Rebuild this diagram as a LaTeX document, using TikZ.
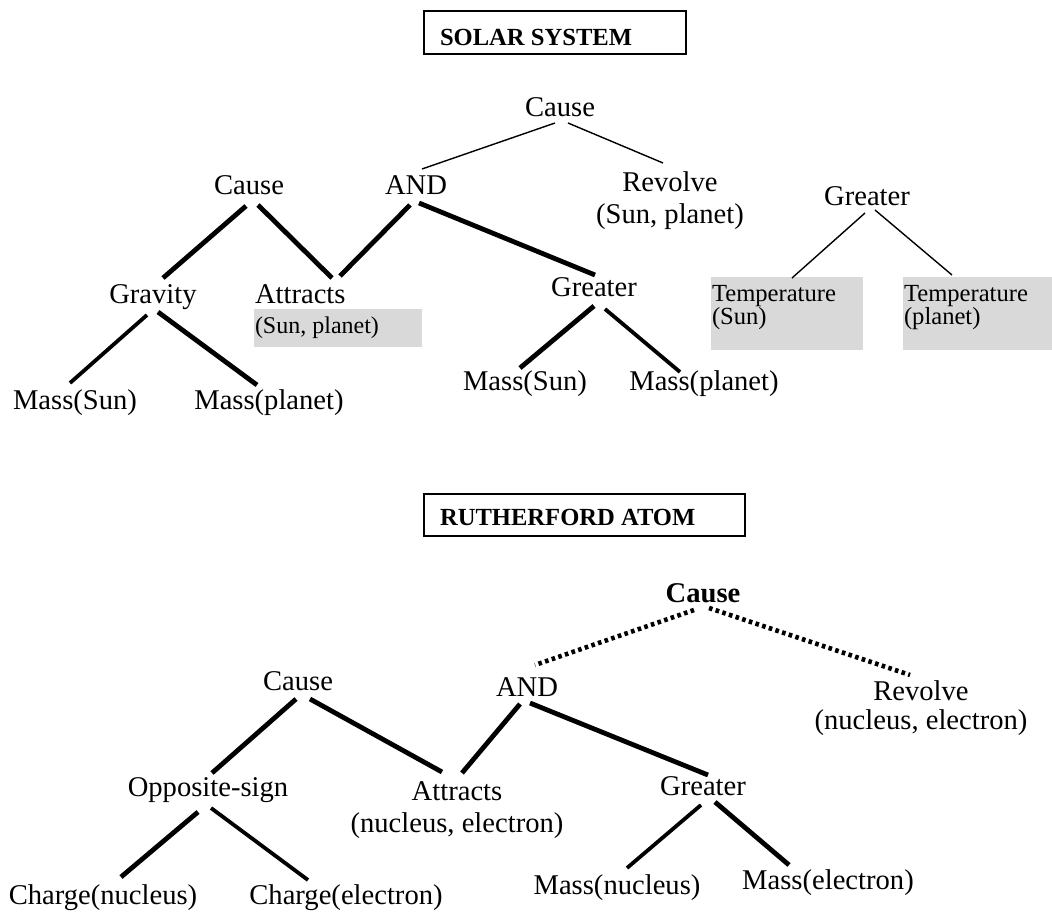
\documentclass[tikz,border=0pt]{standalone}
\usepackage{fontspec}
\setmainfont{Liberation Serif}
\definecolor{shade}{gray}{0.85}
\newcommand\lstack[2]{\vtop{\halign{##\hfil\cr #1\cr #2\cr}}}
\newcommand\cstack[2]{\vtop{\halign{\hfil##\hfil\cr #1\cr #2\cr}}}
\begin{document}
\begin{tikzpicture}[x=1pt,y=-1pt,
  every node/.style={inner sep=0pt, outer sep=0pt},
  lbl/.style={anchor=base, font=\fontsize{28.6}{32}\selectfont},
  boldlbl/.style={anchor=base, font=\fontsize{28.6}{32}\selectfont\bfseries},
  graybox/.style={fill=shade, anchor=north west, inner xsep=1pt, font=\fontsize{24.6}{23}\selectfont},
  titlebox/.style={draw, line width=2pt, anchor=north west, inner xsep=16pt, inner ysep=0pt, font=\fontsize{24.6}{28}\selectfont\bfseries},
  lnthin/.style={line width=1.4pt},
  lnthick/.style={line width=4.8pt},
  lnmid/.style={line width=3.8pt},
  lndots/.style={line width=4.6pt, dash pattern=on 3.6pt off 3.4pt},
]
\useasboundingbox (0,0) rectangle (1052,912);
% ---------- Solar system ----------
\node[titlebox, text height=35pt, text depth=8pt] (t1) at (424,11) {\makebox[230pt][l]{SOLAR SYSTEM}};
\node[lbl] (c1) at (560,117) {Cause};
\node[lbl] (c2) at (249,195) {Cause};
\node[lbl] (and1) at (416,195) {AND};
\node[lbl] (rev1) at (670,192) {\cstack{Revolve}{(Sun, planet)}};
\node[lbl] (grav) at (153,303) {Gravity};
\node[lbl, anchor=base west] (attr1) at (255,303) {Attracts};
\node[graybox, font=\fontsize{24}{23}\selectfont, text height=24pt, text depth=14pt] (attr1b) at (254,309) {\makebox[166pt][l]{(Sun, planet)}};
\node[lbl] (gr1) at (594,296) {Greater};
\node[lbl] (ms1) at (75,409) {Mass(Sun)};
\node[lbl] (mp1) at (269,409) {Mass(planet)};
\node[lbl] (ms2) at (525,390) {Mass(Sun)};
\node[lbl] (mp2) at (704,390) {Mass(planet)};
\node[lbl] (gr2) at (867,206) {Greater};
\node[graybox, text height=24pt, text depth=49pt] (temp1) at (711,277) {\makebox[150pt][l]{\lstack{Temperature}{(Sun)}}};
\node[graybox, text height=24pt, text depth=49pt] (temp2) at (903,277) {\makebox[147pt][l]{\lstack{Temperature}{(planet)}}};

\draw[lnthin] ([shift={(-5,6)}]c1.base) -- ([shift={(6,-26)}]and1.base);
\draw[lnthin] ([shift={(8,6)}]c1.base) -- ([shift={(-7,-29)}]rev1.base);
\draw[lnthick] ([shift={(-3,11)}]c2.base) -- ([shift={(10,-25)}]grav.base);
\draw[lnthick] ([shift={(9,10)}]c2.base) -- ([shift={(77,-25)}]attr1.base west);
\draw[lnthick] ([shift={(-6,10)}]and1.base) -- ([shift={(85,-27)}]attr1.base west);
\draw[lnthick] ([shift={(3,8)}]and1.base) -- ([shift={(1,-21)}]gr1.base);
\draw[lnmid] ([shift={(-6,12)}]grav.base) -- ([shift={(-5,-26)}]ms1.base);
\draw[lnthick] ([shift={(5,9)}]grav.base) -- ([shift={(-12,-24)}]mp1.base);
\draw[lnthick] ([shift={(0,10)}]gr1.base) -- ([shift={(-5,-22)}]ms2.base);
\draw[lnmid] ([shift={(11,13)}]gr1.base) -- ([shift={(-24,-18)}]mp2.base);
\draw[lnthin] ([shift={(-2,7)}]gr2.base) -- ([shift={(81,1)}]temp1.north west);
\draw[lnthin] ([shift={(8,4)}]gr2.base) -- ([shift={(49,-2)}]temp2.north west);

% ---------- Rutherford atom ----------
\node[titlebox, text height=31pt, text depth=11pt] (t2) at (424,494) {\makebox[289pt][l]{RUTHERFORD ATOM}};
\node[boldlbl] (c3) at (703,602) {Cause};
\node[lbl, font=\fontsize{28.6}{29}\selectfont] (rev2) at (921,700) {\cstack{Revolve}{(nucleus, electron)}};
\node[lbl] (and2) at (527,696) {AND};
\node[lbl] (c4) at (298,690) {Cause};
\node[lbl] (opp) at (208,796) {Opposite-sign};
\node[lbl] (attr2) at (457,800) {\cstack{Attracts}{(nucleus, electron)}};
\node[lbl] (gr3) at (703,795) {Greater};
\node[lbl] (ch1) at (103,904) {Charge(nucleus)};
\node[lbl] (ch2) at (346,904) {Charge(electron)};
\node[lbl] (mn) at (617,894) {Mass(nucleus)};
\node[lbl] (me) at (828,889) {Mass(electron)};

\draw[lndots] ([shift={(-9,8)}]c3.base) -- ([shift={(8,-31)}]and2.base);
\draw[lndots] ([shift={(6,6)}]c3.base) -- ([shift={(-11,-25)}]rev2.base);
\draw[lnthick] ([shift={(-2,9)}]c4.base) -- ([shift={(4,-23)}]opp.base);
\draw[lnthick] ([shift={(12,9)}]c4.base) -- ([shift={(-15,-28)}]attr2.base);
\draw[lnthick] ([shift={(-7,8)}]and2.base) -- ([shift={(5,-27)}]attr2.base);
\draw[lnthick] ([shift={(3,7)}]and2.base) -- ([shift={(5,-20)}]gr3.base);
\draw[lnthick] ([shift={(-10,16)}]opp.base) -- ([shift={(18,-27)}]ch1.base);
\draw[lnmid] ([shift={(3,12)}]opp.base) -- ([shift={(-38,-24)}]ch2.base);
\draw[lnmid] ([shift={(-2,10)}]gr3.base) -- ([shift={(10,-26)}]mn.base);
\draw[lnthick] ([shift={(12,7)}]gr3.base) -- ([shift={(-39,-24)}]me.base);
\end{tikzpicture}
\end{document}
